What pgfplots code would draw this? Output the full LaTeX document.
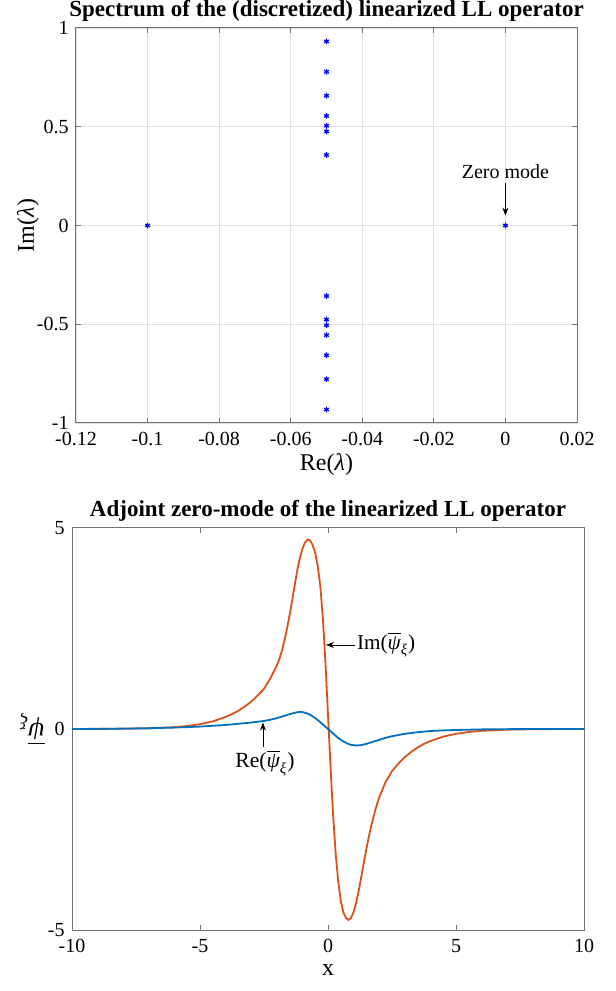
\documentclass[border=0pt]{standalone}
\usepackage{fontspec}
\setmainfont{Liberation Serif}
\usepackage{amsmath}
\usepackage{pgfplots}
\pgfplotsset{compat=1.18}
\usetikzlibrary{arrows.meta}
\definecolor{mblue}{rgb}{0,0.447,0.741}
\definecolor{morange}{rgb}{0.85,0.325,0.098}
\newcommand{\psib}{\overline{\text{\itshape ψ}}_{\text{\itshape ξ}}}
\begin{document}
\begin{tikzpicture}[font=\fontsize{10}{12}\selectfont]
\path[use as bounding box] (0,0) rectangle (308pt,495.5pt);
\pgfplotsset{
  every axis/.append style={
    scale only axis,
    axis line style={black!55, line width=0.5pt},
    tick style={black!55, line width=0.5pt},
    tick align=inside,
    major tick length=2.5pt,
    xticklabel style={inner sep=0pt, anchor=north, yshift=-4.4pt},
    yticklabel style={inner sep=0pt, anchor=east, xshift=-3.5pt},
    title style={at={(axis description cs:0.5,1)}, anchor=base, inner sep=0pt, yshift=-0.5pt, font=\fontsize{11.5}{13}\selectfont\bfseries},
    xlabel style={anchor=base, inner sep=0pt, font=\fontsize{12}{14}\selectfont},
    ylabel style={anchor=center, inner sep=0pt, font=\fontsize{12}{14}\selectfont},
  },
}
% ---------------- top axis ----------------
\begin{axis}[
  at={(38pt,284pt)}, anchor=south west,
  width=250.5pt, height=197.5pt,
  xmin=-0.12, xmax=0.02, ymin=-1, ymax=1,
  xtick={-0.12,-0.1,-0.08,-0.06,-0.04,-0.02,0,0.02},
  xticklabels={-0.12,-0.1,-0.08,-0.06,-0.04,-0.02,0,0.02},
  ytick={-1,-0.5,0,0.5,1},
  yticklabels={-1,-0.5,0,0.5,1},
  grid=major, grid style={black!12, line width=0.4pt},
  title={Spectrum of the (discretized) linearized LL operator},
  xlabel={Re({\itshape λ})},
  xlabel style={at={(axis description cs:0.5,-0.119)}},
  ylabel={Im({\itshape λ})},
  ylabel style={at={(axis description cs:-0.096,0.5)}},
]
\addplot[only marks, mark=asterisk, mark size=1.4pt, color=blue, mark options={line width=0.6pt}] coordinates {
  (-0.05,0.932) (-0.05,0.778) (-0.05,0.657) (-0.05,0.555) (-0.05,0.505) (-0.05,0.476) (-0.05,0.357)
  (-0.05,-0.357) (-0.05,-0.476) (-0.05,-0.505) (-0.05,-0.555) (-0.05,-0.657) (-0.05,-0.778) (-0.05,-0.932)
  (-0.1,0) (0,0)
};
\draw[-{Stealth[length=4pt,width=3pt]}, line width=0.45pt] (axis cs:0,0.215) -- (axis cs:0,0.05);
\node[anchor=base, inner sep=0pt] at (axis cs:0,0.238) {Zero mode};
\end{axis}
% ---------------- bottom axis ----------------
\begin{axis}[
  at={(36pt,30.5pt)}, anchor=south west,
  width=256pt, height=201pt,
  xmin=-10, xmax=10, ymin=-5, ymax=5,
  xtick={-10,-5,0,5,10},
  xticklabels={-10,-5,0,5,10},
  ytick={-5,0,5},
  yticklabels={-5,0,5},
  title={Adjoint zero-mode of the linearized LL operator},
  xlabel={x},
  xlabel style={at={(axis description cs:0.5,-0.112)}},
  ylabel={$\psib$},
  ylabel style={at={(axis description cs:-0.078,0.5)}, rotate=90, font=\fontsize{13.5}{15}\selectfont},
]
\addplot[color=morange, line width=0.9pt] coordinates {
  (-10,0) (-9,0.002) (-8,0.006) (-7,0.016) (-6,0.045) (-5.5,0.075) (-5,0.12) (-4.5,0.19) (-4,0.3)
  (-3.75,0.37) (-3.5,0.45) (-3.25,0.56) (-3,0.68) (-2.75,0.83) (-2.5,1.0) (-2.25,1.26) (-2,1.58)
  (-1.9,1.74) (-1.8,1.95) (-1.7,2.2) (-1.6,2.5) (-1.5,2.83) (-1.4,3.2) (-1.3,3.58) (-1.2,3.95)
  (-1.1,4.25) (-1.0,4.48) (-0.9,4.64) (-0.8,4.71) (-0.7,4.69) (-0.6,4.58) (-0.5,4.38) (-0.4,4.05)
  (-0.3,3.55) (-0.2,2.75) (-0.1,1.65) (0,0.35) (0.1,-0.95) (0.2,-2.15) (0.3,-3.1) (0.4,-3.8)
  (0.5,-4.28) (0.6,-4.56) (0.7,-4.7) (0.8,-4.75) (0.9,-4.7) (1.0,-4.55) (1.1,-4.32) (1.2,-4.02)
  (1.3,-3.68) (1.4,-3.32) (1.5,-2.98) (1.6,-2.66) (1.7,-2.38) (1.8,-2.13) (1.9,-1.9) (2,-1.7)
  (2.25,-1.32) (2.5,-1.05) (2.75,-0.86) (3,-0.7) (3.25,-0.57) (3.5,-0.46) (3.75,-0.37) (4,-0.3)
  (4.5,-0.19) (5,-0.12) (5.5,-0.075) (6,-0.045) (7,-0.016) (8,-0.006) (9,-0.002) (10,0)
};
\addplot[color=mblue, line width=0.9pt] coordinates {
  (-10,0) (-9,0.004) (-8,0.01) (-7,0.02) (-6,0.035) (-5,0.06) (-4.5,0.08) (-4,0.1) (-3.5,0.13)
  (-3,0.16) (-2.75,0.18) (-2.5,0.2) (-2.25,0.23) (-2,0.27) (-1.75,0.32) (-1.5,0.37) (-1.25,0.41)
  (-1.1,0.425) (-1.0,0.42) (-0.875,0.4) (-0.75,0.37) (-0.625,0.325) (-0.5,0.27) (-0.375,0.21)
  (-0.25,0.14) (-0.125,0.07) (0,0.0) (0.125,-0.07) (0.25,-0.14) (0.375,-0.21) (0.5,-0.27)
  (0.625,-0.32) (0.75,-0.36) (0.875,-0.39) (1.0,-0.405) (1.15,-0.41) (1.3,-0.4) (1.5,-0.37)
  (1.75,-0.32) (2,-0.27) (2.25,-0.22) (2.5,-0.18) (2.75,-0.15) (3,-0.12) (3.5,-0.08) (4,-0.05)
  (4.5,-0.035) (5,-0.025) (6,-0.01) (7,-0.004) (8,-0.001) (10,0)
};
\draw[-{Stealth[length=4pt,width=3pt]}, line width=0.45pt] (axis cs:1.05,2.09) -- (axis cs:-0.08,2.09);
\node[anchor=west, inner sep=0pt, font=\fontsize{10.6}{12}\selectfont] at (axis cs:1.12,2.09) {Im($\psib$)};
\draw[-{Stealth[length=4pt,width=3pt]}, line width=0.45pt] (axis cs:-2.54,-0.45) -- (axis cs:-2.54,0.16);
\node[anchor=north, inner sep=0pt, font=\fontsize{10.8}{12}\selectfont] at (axis cs:-2.46,-0.52) {Re($\psib$)};
\end{axis}
\end{tikzpicture}
\end{document}
